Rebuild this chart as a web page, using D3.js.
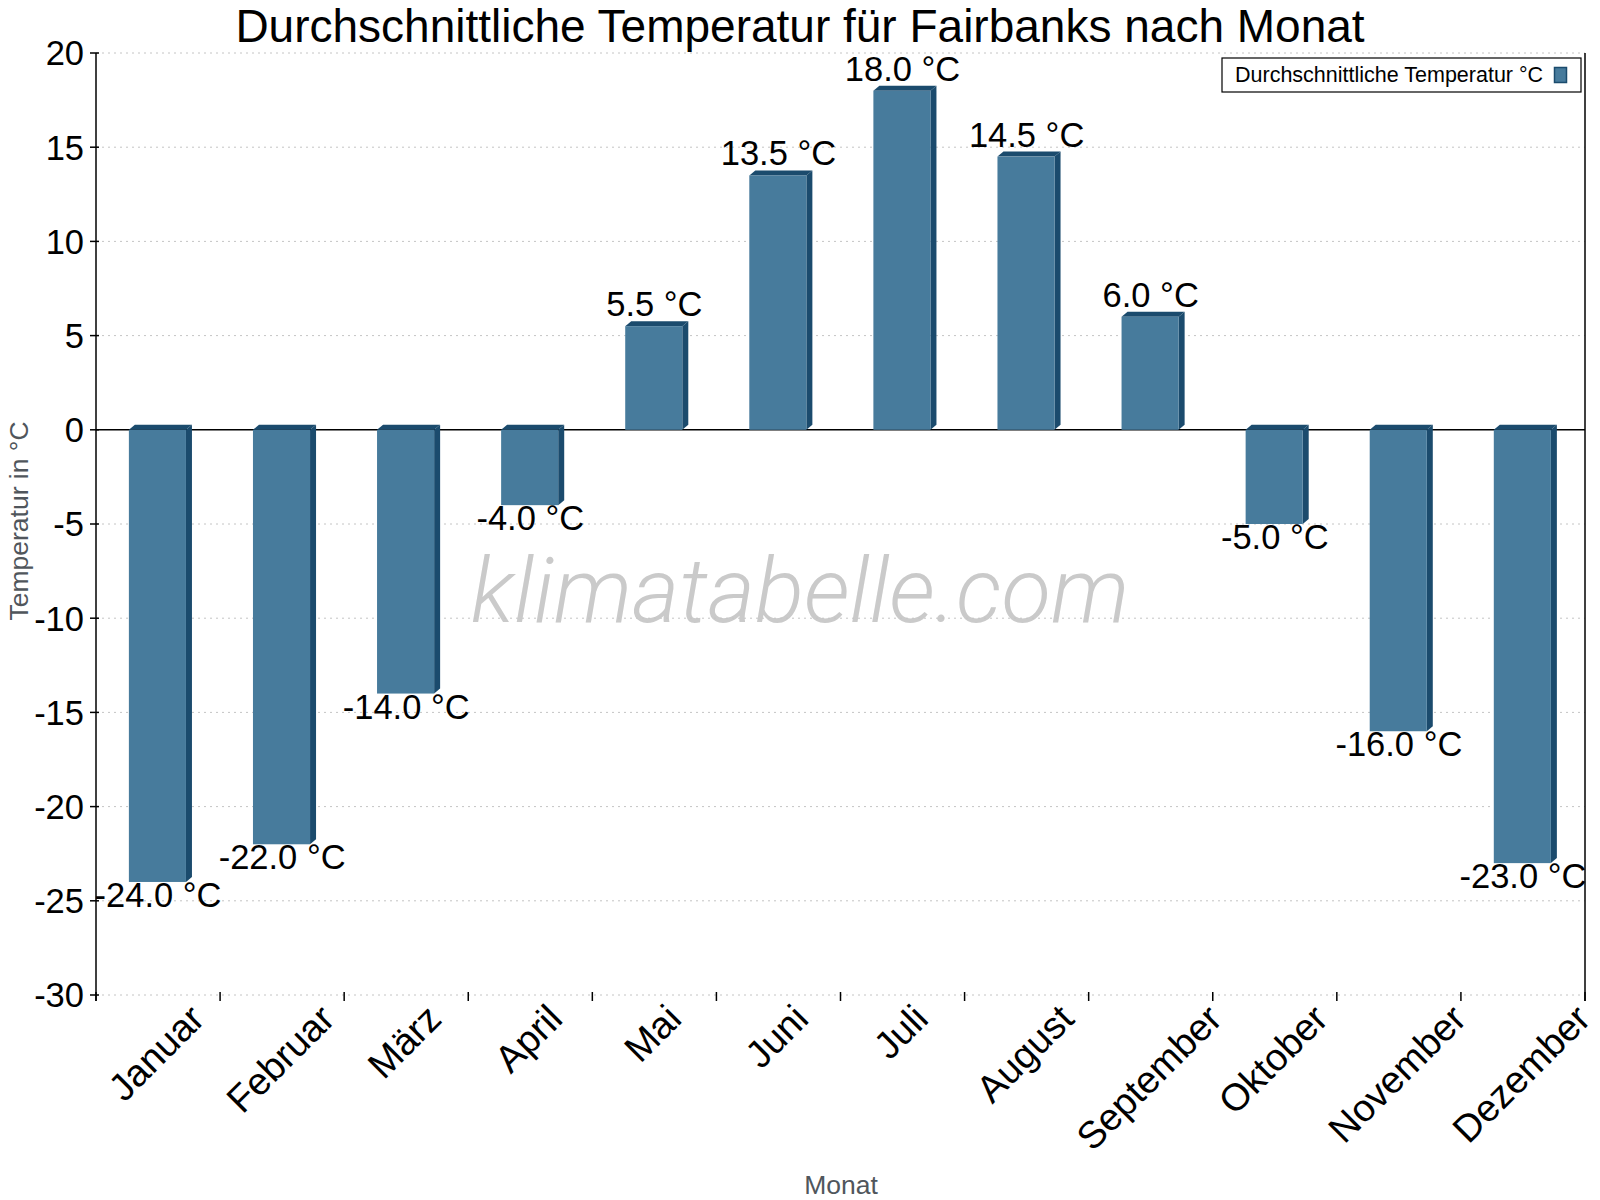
<!DOCTYPE html>
<html>
<head>
<meta charset="utf-8">
<script src="https://cdn.jsdelivr.net/npm/d3@7"></script>
<style>
  body { margin: 0; background: #fff; }
  svg { display: block; font-family: "Liberation Sans", Arial, sans-serif; }
</style>
</head>
<body>
<svg id="chart" width="1600" height="1200"></svg>
<script>
// data
var months = ["Januar", "Februar", "März", "April", "Mai", "Juni", "Juli",
    "August", "September", "Oktober", "November", "Dezember"];
var temps = [-24.0, -22.0, -14.0, -4.0, 5.5, 13.5, 18.0, 14.5, 6.0, -5.0, -16.0, -23.0];
var yTicks = [-30, -25, -20, -15, -10, -5, 0, 5, 10, 15, 20];

var ctx = {
    w: 1600, h: 1200,
    left: 96, right: 1585, top: 53, bottom: 995,
    front: "#477b9c", dark: "#1b4b6d",
    depthX: 6, depthY: 5
};

var svgEl = d3.select("#chart");

var x = d3.scaleBand()
    .domain(months)
    .range([ctx.left, ctx.right])
    .paddingInner(0).paddingOuter(0);

var y = d3.scaleLinear()
    .domain([-30, 20])
    .range([ctx.bottom, ctx.top]);

// watermark sits under everything
svgEl.append("text")
    .attr("x", 800)
    .attr("y", 622)
    .attr("text-anchor", "middle")
    .attr("font-family", "Roboto, 'Liberation Sans', sans-serif")
    .attr("font-style", "italic")
    .attr("font-weight", 300)
    .attr("font-size", 91)
    .attr("fill", "#cacaca")
    .text("klimatabelle.com");

// dotted grid
svgEl.append("g")
    .selectAll("line")
    .data(yTicks.filter(d => d !== 0))
    .enter()
    .append("line")
    .attr("x1", ctx.left)
    .attr("x2", ctx.right)
    .attr("y1", d => y(d))
    .attr("y2", d => y(d))
    .attr("stroke", "#c4c4c4")
    .attr("stroke-width", 1)
    .attr("stroke-dasharray", "2,4");

// zero line
svgEl.append("line")
    .attr("x1", ctx.left).attr("x2", ctx.right)
    .attr("y1", y(0)).attr("y2", y(0))
    .attr("stroke", "#000").attr("stroke-width", 1.5);

// bars (front + dark top and side faces)
var barOff = x.bandwidth() * 0.265;
var barW = x.bandwidth() * 0.46;
var dx = ctx.depthX, dy = ctx.depthY;

months.forEach(function(m, i) {
    var v = temps[i];
    var x0 = x(m) + barOff;
    var yt = y(Math.max(v, 0));
    var yb = y(Math.min(v, 0));
    var g = svgEl.append("g").attr("class", "bar");

    g.append("polygon")
        .attr("points", [[x0 + barW, yt], [x0 + barW + dx, yt - dy], [x0 + barW + dx, yb - dy], [x0 + barW, yb]].join(" "))
        .attr("fill", ctx.dark);
    g.append("polygon")
        .attr("points", [[x0, yt], [x0 + dx, yt - dy], [x0 + barW + dx, yt - dy], [x0 + barW, yt]].join(" "))
        .attr("fill", ctx.dark);
    g.append("rect")
        .attr("x", x0)
        .attr("y", yt)
        .attr("width", barW)
        .attr("height", yb - yt)
        .attr("fill", ctx.front);

    // value label
    g.append("text")
        .attr("x", x(m) + x.bandwidth() / 2)
        .attr("y", v >= 0 ? y(v) - 10 : y(v) + 25)
        .attr("text-anchor", "middle")
        .attr("font-size", 34.5)
        .attr("fill", "#000")
        .text(v.toFixed(1) + " °C");
});

// spines
svgEl.append("line")
    .attr("x1", ctx.left).attr("x2", ctx.left)
    .attr("y1", ctx.top).attr("y2", ctx.bottom + 6)
    .attr("stroke", "#000").attr("stroke-width", 1.5);
svgEl.append("line")
    .attr("x1", ctx.right).attr("x2", ctx.right)
    .attr("y1", ctx.top).attr("y2", ctx.bottom + 6)
    .attr("stroke", "#000").attr("stroke-width", 1.5);

// y axis ticks + labels
var yAxisG = svgEl.append("g");
yTicks.forEach(function(t) {
    yAxisG.append("line")
        .attr("x1", ctx.left - 6).attr("x2", ctx.left + 3)
        .attr("y1", y(t)).attr("y2", y(t))
        .attr("stroke", "#000").attr("stroke-width", 1.5);
    yAxisG.append("text")
        .attr("x", ctx.left - 12)
        .attr("y", y(t))
        .attr("dy", "0.36em")
        .attr("text-anchor", "end")
        .attr("font-size", 34.5)
        .text(t);
});

// x axis ticks at band edges
var edges = months.map(m => x(m)).concat([ctx.right]);
svgEl.append("g")
    .selectAll("line")
    .data(edges)
    .enter()
    .append("line")
    .attr("x1", d => d).attr("x2", d => d)
    .attr("y1", ctx.bottom - 3).attr("y2", ctx.bottom + 6)
    .attr("stroke", "#000").attr("stroke-width", 1.5);

// rotated month labels, bbox centred on band, top aligned
var labelTop = 1007;
var fsX = 38;
months.forEach(function(m) {
    var t = svgEl.append("text")
        .attr("text-anchor", "middle")
        .attr("dy", "0.35em")
        .attr("font-size", fsX)
        .text(m);
    var w = t.node().getComputedTextLength();
    var cy = labelTop + 0.3536 * w + 0.12 * fsX;
    t.attr("transform", "translate(" + (x(m) + x.bandwidth() / 2 - 2) + "," + cy + ") rotate(-45)");
});

// axis titles
svgEl.append("text")
    .attr("transform", "translate(28,521) rotate(-90)")
    .attr("text-anchor", "middle")
    .attr("font-size", 26.5)
    .attr("fill", "#50565c")
    .text("Temperatur in °C");

svgEl.append("text")
    .attr("x", 841)
    .attr("y", 1194)
    .attr("text-anchor", "middle")
    .attr("font-size", 26.5)
    .attr("fill", "#50565c")
    .text("Monat");

// title
svgEl.append("text")
    .attr("x", 800)
    .attr("y", 42)
    .attr("text-anchor", "middle")
    .attr("font-size", 46)
    .attr("fill", "#000")
    .text("Durchschnittliche Temperatur für Fairbanks nach Monat");

// legend
var legendG = svgEl.append("g").attr("id", "legend");
legendG.append("rect")
    .attr("x", 1222).attr("y", 58)
    .attr("width", 359).attr("height", 34)
    .attr("fill", "#fff")
    .attr("stroke", "#000").attr("stroke-width", 1.2);
legendG.append("text")
    .attr("x", 1235).attr("y", 82)
    .attr("font-size", 21.5)
    .text("Durchschnittliche Temperatur °C");
legendG.append("rect")
    .attr("x", 1554.5).attr("y", 67.5)
    .attr("width", 12).attr("height", 15)
    .attr("fill", ctx.front)
    .attr("stroke", ctx.dark).attr("stroke-width", 1.5);
</script>
</body>
</html>
